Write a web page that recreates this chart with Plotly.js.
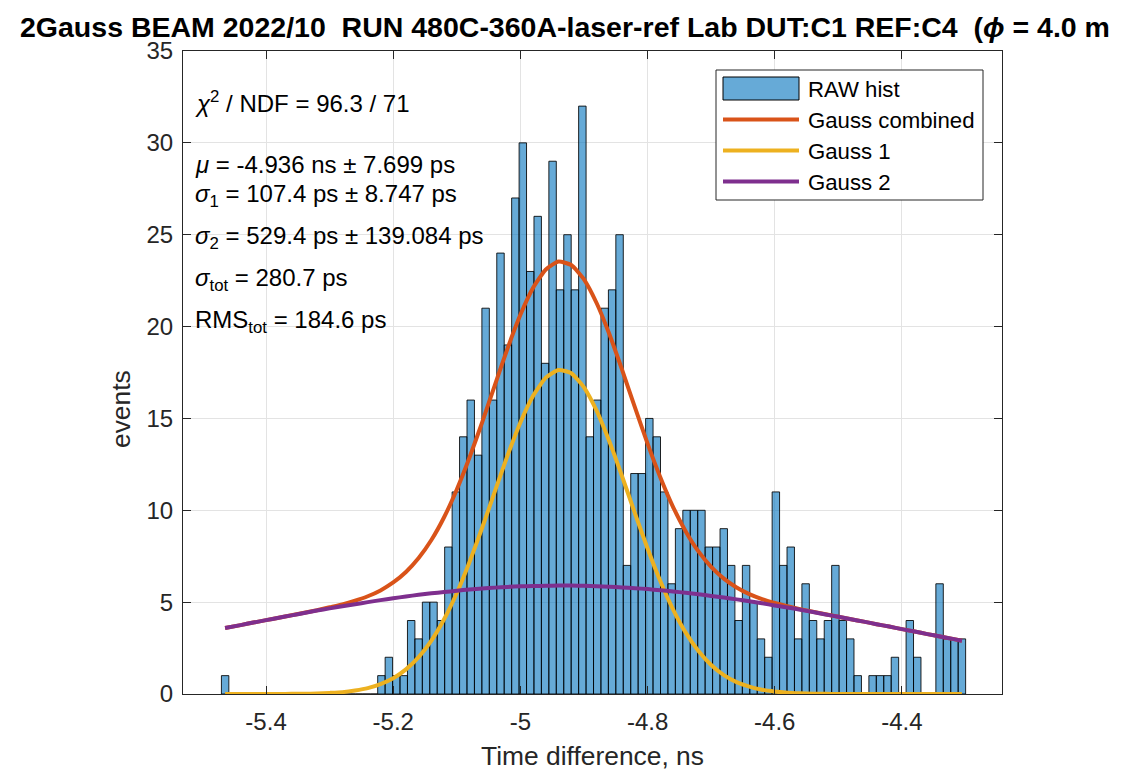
<!DOCTYPE html>
<html>
<head>
<meta charset="utf-8">
<script src="https://cdn.plot.ly/plotly-3.0.1.min.js"></script>
<style>html,body{margin:0;padding:0;background:#fff;}#chart{width:1122px;height:773px;}</style>
</head>
<body>
<div id="chart"></div>
<script>
// ---- Data ----
const binStart = -5.4702;   // left edge of first bin (ns)
const binWidth = 0.011704;  // bin width (ns)
const counts = [
  1,0,0,0,0,0,0,0,0,0, 0,0,0,0,0,0,0,0,0,0,
  0,1,2,1,1,4,3,5,5,4,
  8,11,14,16,13,21,16,24,19,27,
  30,23,26,18,29,22,25,22,32,14,
  16,21,22,25,7,12,12,15,14,11,
  6,9,10,10,10,8,8,9,7,4,
  7,5,3,2,11,7,8,3,6,4,
  3,4,7,4,3,1,0,1,1,1,
  2,0,4,2,0,0,6,3,3,3
];
const curveX = [-5.4644,-5.44,-5.42,-5.40,-5.38,-5.36,-5.34,-5.32,-5.30,-5.28,-5.26,-5.24,-5.22,-5.20,-5.18,-5.16,-5.14,-5.12,-5.10,-5.08,-5.06,-5.04,-5.02,-5.00,-4.98,-4.96,-4.94,-4.92,-4.90,-4.88,-4.86,-4.84,-4.82,-4.80,-4.78,-4.76,-4.74,-4.72,-4.70,-4.68,-4.66,-4.64,-4.62,-4.60,-4.58,-4.56,-4.54,-4.52,-4.50,-4.48,-4.46,-4.44,-4.42,-4.40,-4.38,-4.36,-4.34,-4.32,-4.3056];
const gaussCombined = [3.59,3.75,3.89,4.02,4.15,4.29,4.42,4.56,4.72,4.88,5.08,5.32,5.64,6.07,6.64,7.40,8.38,9.62,11.13,12.87,14.80,16.83,18.83,20.64,22.11,23.11,23.54,23.35,22.57,21.27,19.58,17.64,15.61,13.63,11.80,10.19,8.85,7.76,6.92,6.28,5.80,5.44,5.17,4.96,4.78,4.62,4.48,4.34,4.21,4.07,3.94,3.80,3.67,3.53,3.40,3.26,3.13,3.00,2.90];
const gauss1 = [0.00,0.00,0.00,0.00,0.00,0.01,0.01,0.03,0.06,0.10,0.19,0.32,0.54,0.86,1.34,2.01,2.91,4.07,5.50,7.19,9.06,11.04,13.00,14.78,16.23,17.22,17.64,17.46,16.69,15.41,13.74,11.84,9.85,7.92,6.15,4.61,3.34,2.34,1.58,1.03,0.65,0.40,0.23,0.13,0.07,0.04,0.02,0.01,0.00,0.00,0.00,0.00,0.00,0.00,0.00,0.00,0.00,0.00,0.00];
const gauss2 = [3.59,3.75,3.89,4.02,4.15,4.28,4.41,4.54,4.66,4.78,4.89,5.00,5.11,5.21,5.31,5.40,5.48,5.55,5.62,5.69,5.74,5.79,5.83,5.86,5.88,5.89,5.90,5.90,5.89,5.87,5.84,5.80,5.76,5.71,5.65,5.58,5.51,5.43,5.34,5.25,5.15,5.05,4.94,4.82,4.71,4.59,4.46,4.33,4.20,4.07,3.94,3.80,3.67,3.53,3.40,3.26,3.13,3.00,2.90];
const xTickVals = [-5.4,-5.2,-5.0,-4.8,-4.6,-4.4];
const xTickText = ['-5.4','-5.2','-5','-4.8','-4.6','-4.4'];
const yTickVals = [0,5,10,15,20,25,30,35];
const legendNames = ['RAW hist','Gauss combined','Gauss 1','Gauss 2'];
const statLines = [
  '<i>χ</i><sup>2</sup> / NDF = 96.3 / 71',
  '<i>μ</i> = -4.936 ns ± 7.699 ps',
  '<i>σ</i><sub>1</sub> = 107.4 ps ± 8.747 ps',
  '<i>σ</i><sub>2</sub> = 529.4 ps ± 139.084 ps',
  '<i>σ</i><sub>tot</sub> = 280.7 ps',
  'RMS<sub>tot</sub> = 184.6 ps'
];
// title as visible in the reference (it runs to the right edge of the figure there)
const titleText = '2Gauss BEAM 2022/10 \u00a0RUN 480C-360A-laser-ref Lab DUT:C1 REF:C4 \u00a0(<i>ϕ</i> = 4.0 m';

// ---- Styling ----
const colBar = 'rgba(0,114,189,0.6)';
const colC = '#D95319', col1 = '#EDB120', col2 = '#7E2F8E';
const FONT = 'Liberation Sans, Arial, Helvetica, sans-serif';
const W = 1122, H = 773, L = 183, R = 1002, T = 51, B = 694;
const px = x => (x - L) / (R - L);
const py = y => (B - y) / (B - T);

const centers = counts.map((_, i) => binStart + (i + 0.5) * binWidth);

const traces = [
  {type:'bar', x:centers, y:counts, width:binWidth, name:legendNames[0],
   marker:{color:colBar, line:{color:'rgba(0,0,0,0.85)', width:1}}, showlegend:false, hoverinfo:'x+y'},
  {type:'scatter', mode:'lines', x:curveX, y:gaussCombined, name:legendNames[1],
   line:{color:colC, width:4, shape:'spline', smoothing:0.5}, showlegend:false},
  {type:'scatter', mode:'lines', x:curveX, y:gauss1, name:legendNames[2],
   line:{color:col1, width:4, shape:'spline', smoothing:0.5}, showlegend:false},
  {type:'scatter', mode:'lines', x:curveX, y:gauss2, name:legendNames[3],
   line:{color:col2, width:4, shape:'spline', smoothing:0.5}, showlegend:false}
];

const statY = [101.7, 164.5, 195.8, 237.8, 279.2, 321];
const annotations = statLines.map((t, i) => ({
  xref:'paper', yref:'paper', x:px(193), y:py(statY[i]), xanchor:'left', yanchor:'middle',
  text:t, showarrow:false, font:{family:FONT, size:24, color:'#000'}
}));
// y-axis label
annotations.push({xref:'paper', yref:'paper', x:px(121), y:py(409), xanchor:'center', yanchor:'middle',
  text:'events', textangle:-90, showarrow:false, font:{family:FONT, size:26.4, color:'#262626'}});
// legend texts
const legY = [89, 121, 151, 182];
legendNames.forEach((n, i) => annotations.push({xref:'paper', yref:'paper', x:px(806), y:py(legY[i]),
  xanchor:'left', yanchor:'middle', text:n, showarrow:false, font:{family:FONT, size:22.2, color:'#000'}}));

const shapes = [
  {type:'rect', xref:'paper', yref:'paper', x0:px(716), x1:px(983), y0:py(200), y1:py(70),
   line:{color:'#262626', width:1}, fillcolor:'#ffffff', layer:'above'},
  {type:'rect', xref:'paper', yref:'paper', x0:px(723), x1:px(799), y0:py(100), y1:py(77),
   line:{color:'#000', width:1}, fillcolor:colBar, layer:'above'},
  {type:'line', xref:'paper', yref:'paper', x0:px(723), x1:px(799), y0:py(119.5), y1:py(119.5),
   line:{color:colC, width:4}, layer:'above'},
  {type:'line', xref:'paper', yref:'paper', x0:px(723), x1:px(799), y0:py(150.5), y1:py(150.5),
   line:{color:col1, width:4}, layer:'above'},
  {type:'line', xref:'paper', yref:'paper', x0:px(723), x1:px(799), y0:py(181.5), y1:py(181.5),
   line:{color:col2, width:4}, layer:'above'}
];

const axisCommon = {showline:true, linecolor:'#262626', linewidth:1, mirror:'ticks', ticks:'inside',
  ticklen:8, tickcolor:'#262626', showgrid:true, gridcolor:'#e3e3e3', gridwidth:1, zeroline:false,
  tickfont:{family:FONT, size:24, color:'#262626'}};

const layout = {
  width:W, height:H, paper_bgcolor:'#fff', plot_bgcolor:'#fff',
  margin:{l:L, r:W-R, t:T, b:H-B, pad:0},
  font:{family:FONT},
  title:{text:titleText, xref:'container', yref:'container', x:20/W, xanchor:'left', y:1-27/H, yanchor:'middle',
    font:{family:FONT, size:28.5, color:'#000', weight:'bold'}},
  xaxis:Object.assign({}, axisCommon, {range:[-5.5306,-4.2426], tickmode:'array', tickvals:xTickVals,
    ticktext:xTickText, ticklabelstandoff:6,
    title:{text:'Time difference, ns', font:{family:FONT, size:26.4, color:'#262626'}, standoff:12}}),
  yaxis:Object.assign({}, axisCommon, {range:[0,35], tickmode:'array', tickvals:yTickVals, ticklabelstandoff:4}),
  bargap:0, showlegend:false, annotations:annotations, shapes:shapes
};

Plotly.newPlot('chart', traces, layout, {displayModeBar:false, staticPlot:true});
</script>
</body>
</html>
